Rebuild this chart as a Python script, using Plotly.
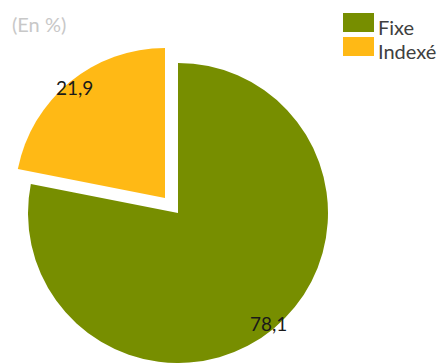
import math
import plotly.graph_objects as go

labels = ["Fixe", "Indexé"]
values = [78.1, 21.9]
colors = ["#778E00", "#FFB915"]
unit_note = "(En %)"

W, H = 445, 363
R = 150            # pie radius in px
CX, CY = 178, 213  # pie centre (px from top-left)
PULL_PX = (-13, -15)  # offset of the pulled slice (px)
LABEL_K = 0.95     # radial position of the value labels (fraction of R)
FONT = "Lato"

def domain(cx, cy, r):
    return dict(x=[(cx - r) / W, (cx + r) / W],
                y=[(H - cy - r) / H, (H - cy + r) / H])

def fmt(v):
    return f"{v:.1f}".replace(".", ",")

transparent = "rgba(0,0,0,0)"
centres = [(CX, CY), (CX + PULL_PX[0], CY + PULL_PX[1])]

fig = go.Figure()
for i in range(len(values)):
    cols = [transparent] * len(values)
    cols[i] = colors[i]
    cx, cy = centres[i]
    fig.add_trace(go.Pie(
        labels=labels, values=values, sort=False, direction="clockwise", rotation=0,
        marker=dict(colors=cols, line=dict(width=0)),
        textinfo="none", domain=domain(cx, cy, R), showlegend=False,
        hoverinfo="label+value",
    ))

annotations = []
# value labels placed near the outer edge of each slice (best-fit style)
total = sum(values)
cum = 0.0
for i, v in enumerate(values):
    mid = (cum + v / 2) / total * 2 * math.pi
    cum += v
    cx, cy = centres[i]
    px = cx + math.sin(mid) * LABEL_K * R
    py = cy - math.cos(mid) * LABEL_K * R
    annotations.append(dict(text=fmt(v), xref="paper", yref="paper",
                            x=px / W, y=1 - py / H, xanchor="center", yanchor="middle",
                            showarrow=False,
                            font=dict(family=FONT, size=19, color="#1a1a1a")))

# Legend drawn as shapes + text
shapes = []
leg_x0, leg_y0, sw, sh, row = 343, 13, 31, 19, 24
for i, (lab, col) in enumerate(zip(labels, colors)):
    y0 = leg_y0 + i * row
    shapes.append(dict(type="rect", xref="paper", yref="paper",
                       x0=leg_x0 / W, x1=(leg_x0 + sw) / W,
                       y0=1 - y0 / H, y1=1 - (y0 + sh) / H,
                       fillcolor=col, line=dict(width=0), layer="above"))
    annotations.append(dict(text=lab, xref="paper", yref="paper",
                            x=(leg_x0 + sw + 2) / W, y=1 - (y0 + sh / 2 + 4) / H,
                            xanchor="left", yanchor="middle", showarrow=False,
                            font=dict(family=FONT, size=20, color="#404040")))

annotations.append(dict(text=unit_note, xref="paper", yref="paper",
                        x=10 / W, y=1 - 24 / H, xanchor="left", yanchor="middle",
                        showarrow=False,
                        font=dict(family=FONT, size=20, color="#C8C8C8")))

fig.update_layout(width=W, height=H, margin=dict(l=0, r=0, t=0, b=0),
                  paper_bgcolor="white", plot_bgcolor="white",
                  shapes=shapes, annotations=annotations, showlegend=False)

fig.write_html("out.html")
